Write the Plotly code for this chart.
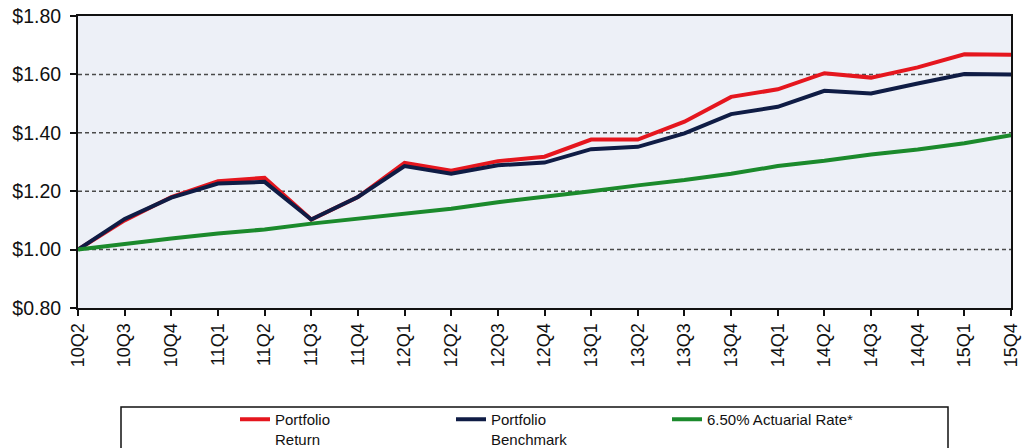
import plotly.graph_objects as go

quarters = ["10Q2", "10Q3", "10Q4", "11Q1", "11Q2", "11Q3", "11Q4", "12Q1", "12Q2", "12Q3",
            "12Q4", "13Q1", "13Q2", "13Q3", "13Q4", "14Q1", "14Q2", "14Q3", "14Q4", "15Q1", "15Q4"]
portfolio_return = [1.00, 1.10, 1.18, 1.234, 1.246, 1.103, 1.18, 1.297, 1.27, 1.303,
                    1.318, 1.377, 1.377, 1.438, 1.523, 1.549, 1.604, 1.589, 1.624, 1.669, 1.667]
portfolio_benchmark = [1.00, 1.105, 1.178, 1.226, 1.232, 1.103, 1.18, 1.286, 1.26, 1.289,
                       1.298, 1.344, 1.352, 1.398, 1.464, 1.489, 1.544, 1.535, 1.569, 1.601, 1.600]
actuarial_rate = [1.00, 1.02, 1.038, 1.055, 1.069, 1.089, 1.106, 1.123, 1.14, 1.162,
                  1.18, 1.20, 1.22, 1.238, 1.26, 1.286, 1.304, 1.326, 1.343, 1.364, 1.392]
y_ticks = [0.8, 1.0, 1.2, 1.4, 1.6, 1.8]
y_tick_labels = ["$0.80", "$1.00", "$1.20", "$1.40", "$1.60", "$1.80"]

W, H = 1023, 448
L, R, T, B = 78, 1011, 16, 308
PW, PH = R - L, B - T

fig = go.Figure()
fig.add_trace(go.Scatter(x=quarters, y=portfolio_return, mode="lines",
                         name="Portfolio<br>Return", line=dict(color="#e5161e", width=4)))
fig.add_trace(go.Scatter(x=quarters, y=portfolio_benchmark, mode="lines",
                         name="Portfolio<br>Benchmark", line=dict(color="#0f1c45", width=4)))
fig.add_trace(go.Scatter(x=quarters, y=actuarial_rate, mode="lines",
                         name="6.50% Actuarial Rate*", line=dict(color="#1b8a2c", width=4)))

# dashed gridlines
for v in [1.0, 1.2, 1.4, 1.6]:
    fig.add_shape(type="line", xref="paper", x0=0, x1=1, yref="y", y0=v, y1=v,
                  line=dict(color="#4a4a4a", width=1.5, dash="4px,3px"), layer="below")

# legend box
fig.add_shape(type="rect", xref="paper", yref="paper",
              x0=(121 - L) / PW, x1=(948 - L) / PW,
              y0=(B - 407) / PH, y1=(B - 470) / PH,
              line=dict(color="#111111", width=1.5))

fig.update_layout(
    width=W, height=H,
    margin=dict(l=L, r=W - R, t=T, b=H - B, pad=0, autoexpand=False),
    paper_bgcolor="white",
    plot_bgcolor="#edf0f7",
    font=dict(family="Liberation Sans, Arial, sans-serif", color="#111111"),
    showlegend=True,
    legend=dict(orientation="h", x=(235 - L) / PW, xanchor="left",
                y=(B - 403) / PH, yanchor="top",
                font=dict(size=15), valign="top",
                entrywidth=171, entrywidthmode="pixels",
                bgcolor="rgba(0,0,0,0)", borderwidth=0, itemwidth=30),
    xaxis=dict(type="category", range=[0, len(quarters) - 1], tickangle=-90,
               automargin=False, ticklabeloverflow="allow",
               showgrid=False, showline=True, linecolor="#111111", linewidth=2,
               mirror=True, ticks="outside", ticklen=6, tickcolor="#111111",
               tickwidth=1.5, tickfont=dict(size=18)),
    yaxis=dict(range=[0.8, 1.8], tickvals=y_ticks, ticktext=y_tick_labels,
               automargin=False, ticklabelstandoff=5, ticklabeloverflow="allow",
               showgrid=False, zeroline=False, showline=True, linecolor="#111111",
               linewidth=2, mirror=True, ticks="outside", ticklen=6,
               tickwidth=1.5, tickcolor="#111111", tickfont=dict(size=19.5)),
)

fig.write_html("out.html", config={"displayModeBar": False},
               post_script="document.body.style.margin='0';document.body.style.overflow='hidden';")
